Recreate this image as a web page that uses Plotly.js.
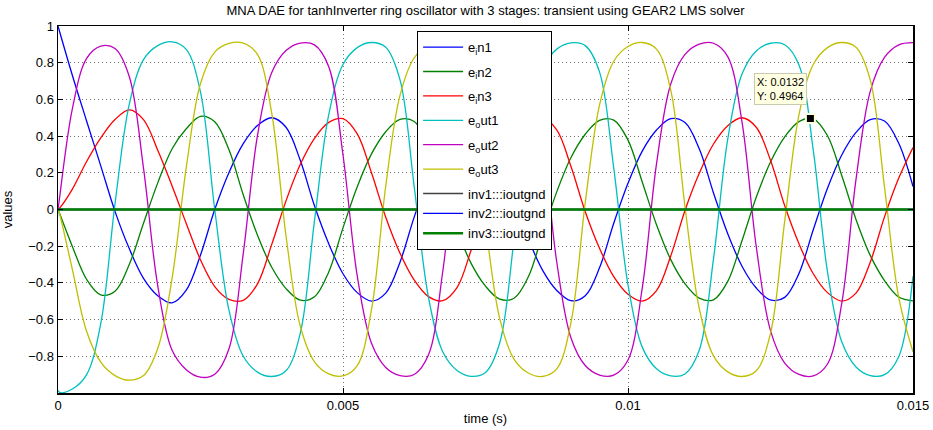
<!DOCTYPE html>
<html>
<head>
<meta charset="utf-8">
<script src="https://cdn.plot.ly/plotly-3.0.1.min.js"></script>
<style>
html,body{margin:0;padding:0;background:#fff;}
#chart{width:933px;height:430px;}
</style>
</head>
<body>
<div id="chart"></div>
<script>
// time (s)
const time = [0, 0.00002, 0.00025, 0.0005, 0.00075, 0.001, 0.00125, 0.0015, 0.00175, 0.002, 0.00225, 0.0025, 0.00275, 0.003, 0.00325, 0.0035, 0.00375, 0.004, 0.00425, 0.0045, 0.00475, 0.005, 0.00525, 0.0055, 0.00575, 0.006, 0.00625, 0.0065, 0.00675, 0.007, 0.00725, 0.0075, 0.00775, 0.008, 0.00825, 0.0085, 0.00875, 0.009, 0.00925, 0.0095, 0.00975, 0.01, 0.01025, 0.0105, 0.01075, 0.011, 0.01125, 0.0115, 0.01175, 0.012, 0.01225, 0.0125, 0.01275, 0.013, 0.01325, 0.0135, 0.01375, 0.014, 0.01425, 0.0145, 0.01475, 0.015];

const e_in1 = [1.0, 0.978, 0.733, 0.484, 0.238, -0.01, -0.213, -0.375, -0.47, -0.509, -0.44, -0.248, 0.0, 0.202, 0.359, 0.458, 0.5, 0.448, 0.268, 0.02, -0.187, -0.35, -0.453, -0.499, -0.456, -0.287, -0.04, 0.171, 0.338, 0.446, 0.498, 0.462, 0.301, 0.055, -0.159, -0.33, -0.441, -0.497, -0.47, -0.318, -0.075, 0.143, 0.318, 0.433, 0.495, 0.474, 0.331, 0.09, -0.132, -0.309, -0.428, -0.493, -0.479, -0.348, -0.11, 0.116, 0.297, 0.42, 0.49, 0.482, 0.361, 0.125];

const e_in2 = [0, -0.015, -0.2, -0.38, -0.465, -0.445, -0.30, -0.075, 0.145, 0.33, 0.44, 0.508, 0.478, 0.325, 0.08, -0.14, -0.315, -0.431, -0.494, -0.476, -0.34, -0.1, 0.124, 0.303, 0.424, 0.491, 0.48, 0.352, 0.115, -0.112, -0.295, -0.418, -0.489, -0.484, -0.368, -0.135, 0.096, 0.283, 0.41, 0.486, 0.487, 0.378, 0.15, -0.083, -0.273, -0.405, -0.483, -0.492, -0.392, -0.17, 0.067, 0.259, 0.396, 0.479, 0.494, 0.402, 0.185, -0.054, -0.25, -0.387, -0.477, -0.498];

const e_in3 = [0, 0.005, 0.11, 0.26, 0.39, 0.49, 0.543, 0.49, 0.323, 0.13, -0.076, -0.275, -0.42, -0.49, -0.495, -0.405, -0.19, 0.047, 0.245, 0.388, 0.475, 0.495, 0.412, 0.2, -0.042, -0.238, -0.385, -0.475, -0.497, -0.426, -0.219, 0.025, 0.224, 0.373, 0.466, 0.499, 0.434, 0.234, -0.012, -0.211, -0.366, -0.462, -0.499, -0.442, -0.253, -0.005, 0.197, 0.357, 0.457, 0.5, 0.448, 0.268, 0.02, -0.187, -0.35, -0.453, -0.499, -0.456, -0.287, -0.04, 0.171, 0.338];

const e_out1 = [0, -0.995, -0.978, -0.901, -0.622, 0.031, 0.573, 0.817, 0.893, 0.914, 0.873, 0.64, 0, -0.55, -0.80, -0.886, -0.91, -0.879, -0.675, -0.061, 0.517, 0.79, 0.882, 0.91, 0.884, 0.706, 0.122, -0.48, -0.775, -0.877, -0.909, -0.888, -0.726, -0.167, 0.452, 0.766, 0.874, 0.908, 0.893, 0.75, 0.225, -0.41, -0.75, -0.868, -0.907, -0.896, -0.767, -0.269, 0.383, 0.738, 0.864, 0.906, 0.898, 0.787, 0.324, -0.34, -0.721, -0.858, -0.905, -0.90, -0.802, -0.364];

const e_out2 = [0, 0.046, 0.546, 0.822, 0.89, 0.877, 0.725, 0.225, -0.416, -0.766, -0.873, -0.914, -0.898, -0.759, -0.24, 0.404, 0.746, 0.866, 0.907, 0.897, 0.778, 0.297, -0.362, -0.729, -0.861, -0.905, -0.899, -0.792, -0.338, 0.33, 0.718, 0.856, 0.904, 0.902, 0.81, 0.392, -0.286, -0.70, -0.85, -0.902, -0.903, -0.82, -0.429, 0.249, 0.684, 0.845, 0.901, 0.906, 0.833, 0.478, -0.202, -0.66, -0.837, -0.899, -0.907, -0.842, -0.512, 0.164, 0.644, 0.829, 0.897, 0.909];

const e_out3 = [0, -0.015, -0.324, -0.662, -0.832, -0.905, -0.93, -0.905, -0.757, -0.378, 0.228, 0.687, 0.858, 0.905, 0.907, 0.845, 0.524, -0.143, -0.635, -0.83, -0.896, -0.907, -0.851, -0.546, 0.128, 0.622, 0.827, 0.896, 0.909, 0.862, 0.585, -0.076, -0.595, -0.815, -0.891, -0.91, -0.869, -0.615, 0.037, 0.569, 0.808, 0.888, 0.91, 0.874, 0.65, 0.015, -0.539, -0.798, -0.885, -0.91, -0.879, -0.675, -0.061, 0.517, 0.79, 0.882, 0.91, 0.884, 0.706, 0.122, -0.48, -0.775];

const inv1_ioutgnd = [0, 0, 0, 0, 0, 0, 0, 0, 0, 0, 0, 0, 0, 0, 0, 0, 0, 0, 0, 0, 0, 0, 0, 0, 0, 0, 0, 0, 0, 0, 0, 0, 0, 0, 0, 0, 0, 0, 0, 0, 0, 0, 0, 0, 0, 0, 0, 0, 0, 0, 0, 0, 0, 0, 0, 0, 0, 0, 0, 0, 0, 0];
const inv2_ioutgnd = [0, 0, 0, 0, 0, 0, 0, 0, 0, 0, 0, 0, 0, 0, 0, 0, 0, 0, 0, 0, 0, 0, 0, 0, 0, 0, 0, 0, 0, 0, 0, 0, 0, 0, 0, 0, 0, 0, 0, 0, 0, 0, 0, 0, 0, 0, 0, 0, 0, 0, 0, 0, 0, 0, 0, 0, 0, 0, 0, 0, 0, 0];
const inv3_ioutgnd = [0, 0, 0, 0, 0, 0, 0, 0, 0, 0, 0, 0, 0, 0, 0, 0, 0, 0, 0, 0, 0, 0, 0, 0, 0, 0, 0, 0, 0, 0, 0, 0, 0, 0, 0, 0, 0, 0, 0, 0, 0, 0, 0, 0, 0, 0, 0, 0, 0, 0, 0, 0, 0, 0, 0, 0, 0, 0, 0, 0, 0, 0];

const seriesNames = ['e<sub>i</sub>n1', 'e<sub>i</sub>n2', 'e<sub>i</sub>n3', 'e<sub>o</sub>ut1', 'e<sub>o</sub>ut2', 'e<sub>o</sub>ut3', 'inv1:::ioutgnd', 'inv2:::ioutgnd', 'inv3:::ioutgnd'];
const legendGroups = ['g1', 'g2', 'g3', 'g4', 'g5', 'g6', 'g7', 'g7', 'g7'];
const xTicks = [0, 0.005, 0.01, 0.015];
const yTicks = [-0.8, -0.6, -0.4, -0.2, 0, 0.2, 0.4, 0.6, 0.8, 1];
const datatipX = [0.0132];
const datatipY = [0.4964];

const seriesValues = [e_in1, e_in2, e_in3, e_out1, e_out2, e_out3, inv1_ioutgnd, inv2_ioutgnd, inv3_ioutgnd];
const colors = ['#0000FF', '#008000', '#FF0000', '#00BFBF', '#BF00BF', '#BFBF00', '#404040', '#0000FF', '#008000'];

const traces = seriesValues.map((vals, i) => ({
  type: 'scatter',
  mode: 'lines',
  x: time,
  y: vals,
  name: seriesNames[i],
  legendgroup: legendGroups[i],
  line: {color: colors[i], width: i === 8 ? 2.4 : 1.3, shape: 'spline', smoothing: 1},
  hoverinfo: 'skip'
}));

traces.push({
  type: 'scatter',
  mode: 'markers',
  x: datatipX,
  y: datatipY,
  showlegend: false,
  cliponaxis: false,
  marker: {symbol: 'square', size: 9, color: '#000', line: {color: '#FFFFE1', width: 2}},
  hoverinfo: 'skip'
});

const FONT = 'Liberation Sans, Arial, Helvetica, sans-serif';

const layout = {
  width: 933,
  height: 430,
  margin: {l: 58, r: 20, t: 26, b: 37},
  paper_bgcolor: '#fff',
  plot_bgcolor: '#fff',
  font: {family: FONT, size: 13, color: '#000'},
  showlegend: true,
  title: {
    text: 'MNA DAE for tanhInverter ring oscillator with 3 stages: transient using GEAR2 LMS solver',
    font: {family: FONT, size: 13, color: '#000'},
    xref: 'paper', x: 0.5, xanchor: 'center',
    yref: 'container', y: 1 - 10 / 430, yanchor: 'middle'
  },
  xaxis: {
    range: [0, 0.015],
    tickvals: xTicks,
    ticktext: xTicks.map(String),
    ticks: 'inside', ticklen: 5, tickwidth: 1, tickcolor: '#000',
    showline: true, linecolor: '#000', linewidth: 1.5, mirror: 'ticks',
    showgrid: true, gridcolor: 'rgba(0,0,0,0.55)', gridwidth: 1, griddash: '1px,3px',
    zeroline: false,
    automargin: false,
    tickfont: {family: FONT, size: 13, color: '#000'},
    title: {text: 'time (s)', font: {family: FONT, size: 13, color: '#000'}, standoff: 2}
  },
  yaxis: {
    range: [-1, 1],
    tickvals: yTicks,
    ticktext: yTicks.map(v => (v < 0 ? '\u2212' + Math.abs(v) : String(v))),
    ticks: 'inside', ticklen: 5, tickwidth: 1, tickcolor: '#000',
    showline: true, linecolor: '#000', linewidth: 1.5, mirror: 'ticks',
    showgrid: true, gridcolor: 'rgba(0,0,0,0.55)', gridwidth: 1, griddash: '1px,3px',
    zeroline: false,
    automargin: false,
    tickfont: {family: FONT, size: 13, color: '#000'},
    title: {text: 'values', font: {family: FONT, size: 13, color: '#000'}, standoff: 12}
  },
  legend: {
    x: 0.42, y: 0.986, xanchor: 'left', yanchor: 'top',
    bgcolor: '#fff', bordercolor: '#000', borderwidth: 1,
    font: {family: FONT, size: 13, color: '#000'},
    itemwidth: 40,
    traceorder: 'grouped',
    tracegroupgap: 4.5
  },
  annotations: [{
    x: datatipX[0], y: datatipY[0], xref: 'x', yref: 'y',
    text: 'X: ' + datatipX[0] + '<br>Y: ' + datatipY[0],
    showarrow: false, xanchor: 'right', yanchor: 'bottom',
    xshift: -3, yshift: 13, align: 'left',
    bgcolor: '#FFFFE1', bordercolor: '#C9C9B0', borderwidth: 1, borderpad: 2,
    font: {family: FONT, size: 11, color: '#000'}
  }]
};

Plotly.newPlot('chart', traces, layout, {displayModeBar: false, staticPlot: true});
</script>
</body>
</html>
